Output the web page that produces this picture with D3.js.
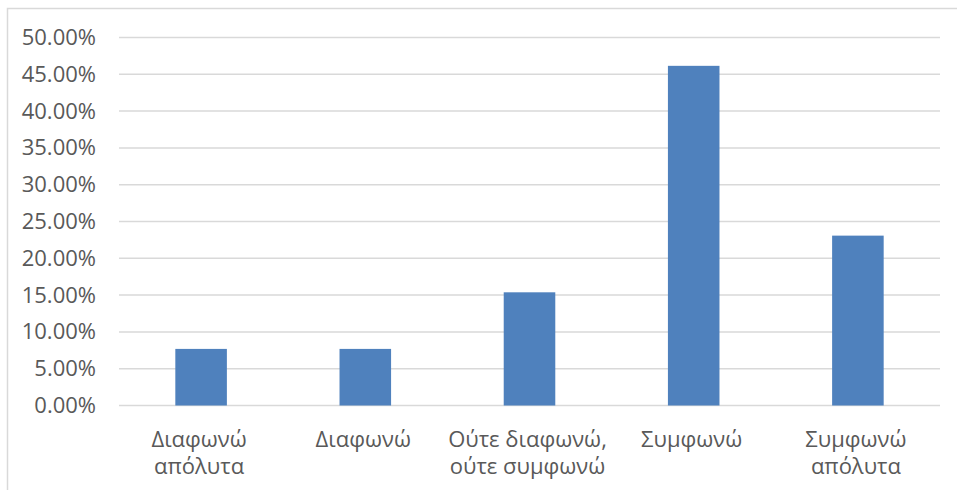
<!DOCTYPE html>
<html>
<head>
<meta charset="utf-8">
<script src="https://cdn.jsdelivr.net/npm/d3@7"></script>
<style>
html,body{margin:0;padding:0;background:#fff;}
svg{display:block;}
text{font-family:"Open Sans","Noto Sans",sans-serif;fill:#595959;}
</style>
</head>
<body>
<svg id="chart" width="957" height="490"></svg>
<script>
const categories = [["Διαφωνώ","απόλυτα"],["Διαφωνώ"],["Ούτε διαφωνώ,","ούτε συμφωνώ"],["Συμφωνώ"],["Συμφωνώ","απόλυτα"]];
const values = [0.0769, 0.0769, 0.1538, 0.4615, 0.2308];
const yTicks = [0,0.05,0.10,0.15,0.20,0.25,0.30,0.35,0.40,0.45,0.50];

(function(){
const svg = d3.select("#chart");
const W = 957, H = 490;
const mLeft = 119, mRight = 940, mTop = 37.5, mBottom = 405.5;

// outer frame
svg.append("rect").attr("x",7.5).attr("y",8.5).attr("width",W+20).attr("height",H+20)
  .attr("fill","none").attr("stroke","#d9d9d9").attr("stroke-width",1.5);

const x = d3.scaleBand().domain(d3.range(categories.length)).range([mLeft,mRight])
  .paddingInner(0.686).paddingOuter(0.343);
const y = d3.scaleLinear().domain([0,0.5]).range([mBottom,mTop]);

// gridlines
svg.append("g").selectAll("line").data(yTicks).join("line")
  .attr("x1",mLeft).attr("x2",mRight)
  .attr("y1",d=>y(d)).attr("y2",d=>y(d))
  .attr("stroke","#d9d9d9").attr("stroke-width",1.5);

// y axis labels
const yAxis = d3.axisLeft(y).tickValues(yTicks).tickFormat(d=>(d*100).toFixed(2)+"%").tickSize(0).tickPadding(0);
const ya = svg.append("g").attr("transform",`translate(${mLeft-23},0)`).call(yAxis);
ya.select(".domain").remove();
ya.selectAll("text").style("font-size","22px").attr("fill","#595959").style("font-family",'"Open Sans","Noto Sans",sans-serif');

// bars
svg.append("g").selectAll("rect").data(values).join("rect")
  .attr("x",(d,i)=>x(i)).attr("width",x.bandwidth())
  .attr("y",d=>y(d)).attr("height",d=>y(0)-y(d))
  .attr("fill","#4f81bd");

// x labels
const xl = svg.append("g").selectAll("text").data(categories).join("text")
  .attr("text-anchor","middle")
  .attr("x",(d,i)=>x(i)+x.bandwidth()/2 - 2)
  .attr("y",446.5)
  .style("font-size","22px");
xl.selectAll("tspan").data(d=>d).join("tspan")
  .attr("x",function(){return this.parentNode.getAttribute("x");})
  .attr("dy",(d,i)=>i===0?0:27.5)
  .text(d=>d);
})();
</script>
</body>
</html>
